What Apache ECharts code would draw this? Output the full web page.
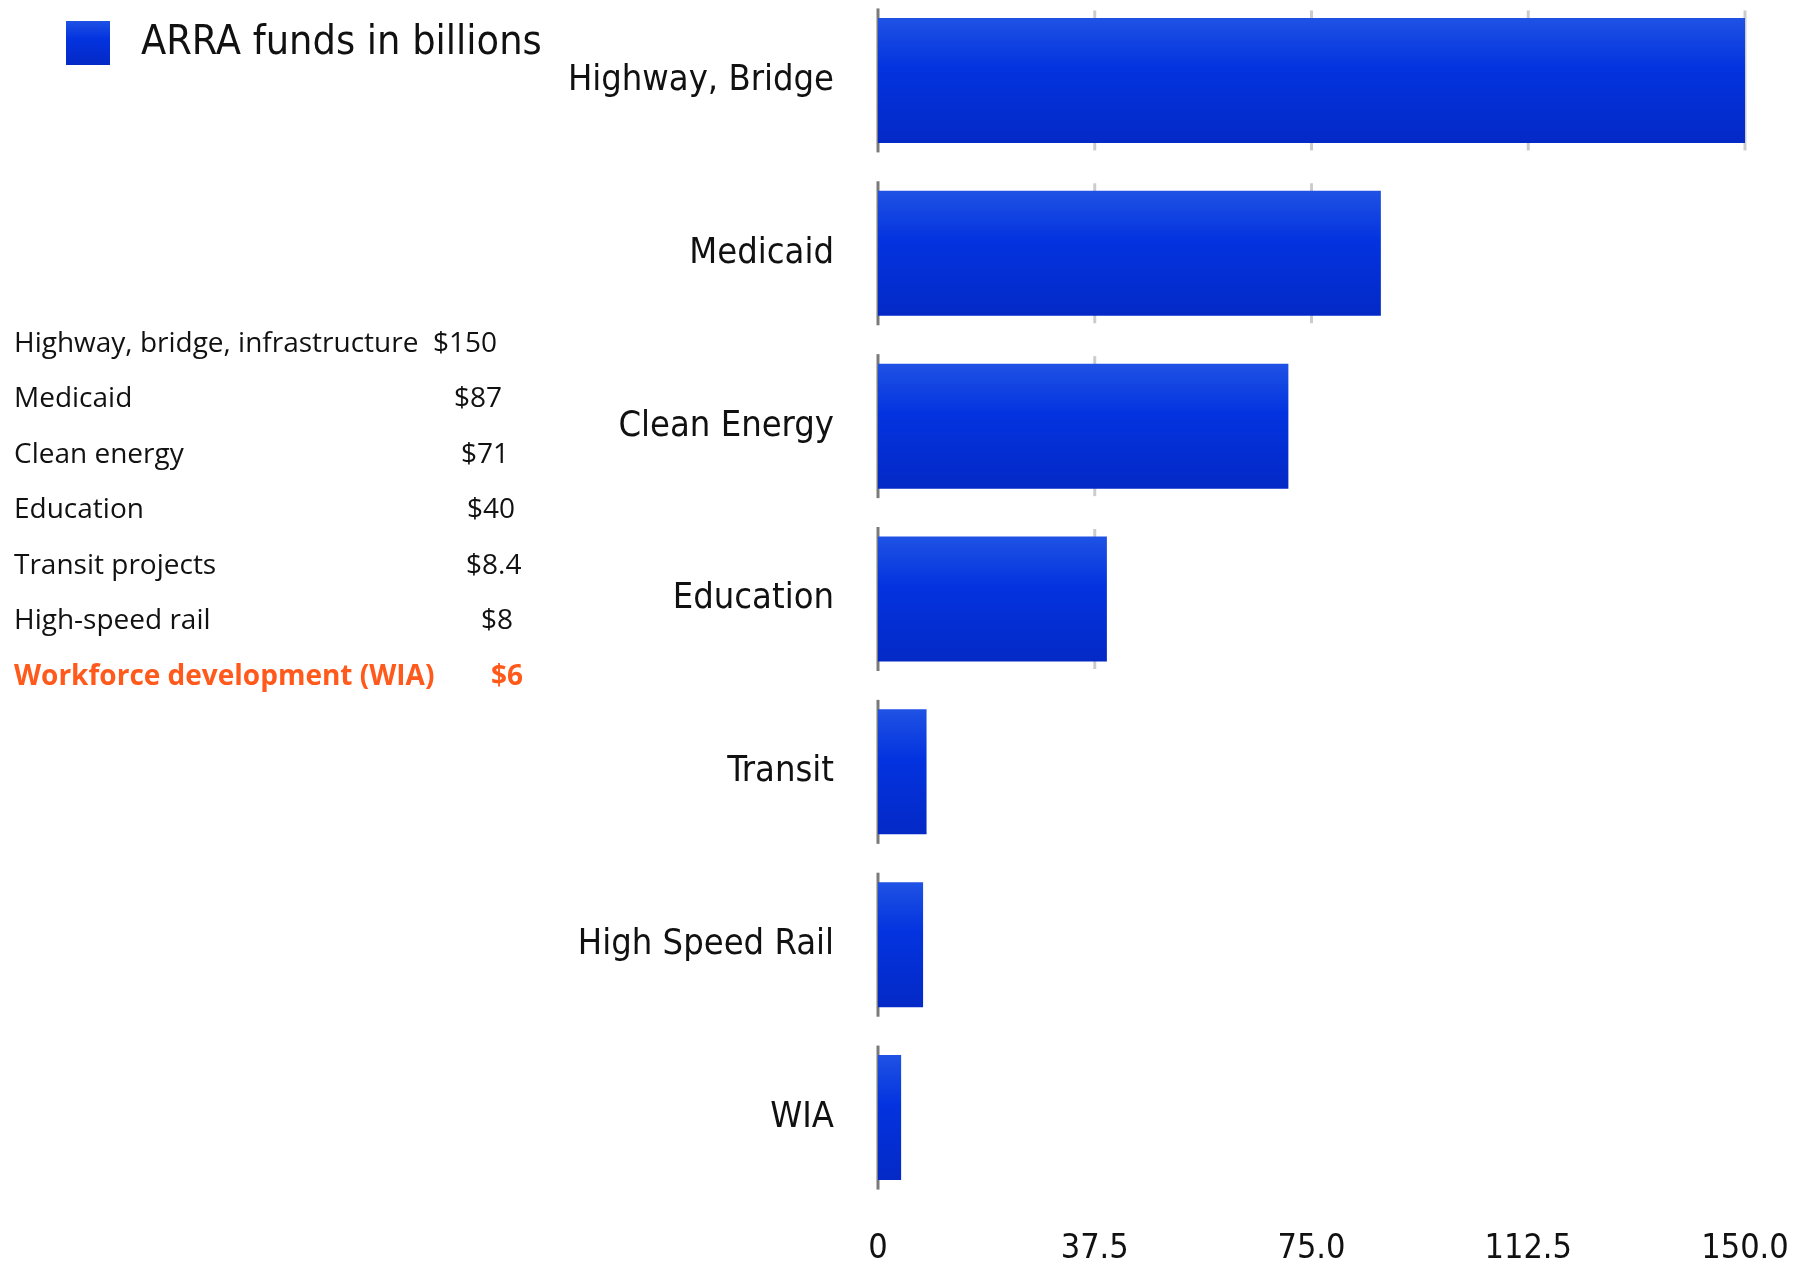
<!DOCTYPE html>
<html>
<head>
<meta charset="utf-8">
<script src="https://cdn.jsdelivr.net/npm/echarts@6/dist/echarts.min.js"></script>
<style>
  html, body { margin: 0; padding: 0; background: #fff; overflow: hidden; }
  #main { width: 1812px; height: 1278px; position: relative; top: -8px; }
</style>
</head>
<body>
<div id="main"></div>
<script>
// 柱状图数据 (柱长按图读取)
var categories = ['Highway, Bridge', 'Medicaid', 'Clean Energy', 'Education', 'Transit', 'High Speed Rail', 'WIA'];
var fundValues = [150, 87, 71, 39.6, 8.4, 7.8, 4];
var xTicks = [0, 37.5, 75, 112.5, 150];
var seriesName = 'ARRA funds in billions';
// 左侧文字表
var tableLabels = ['Highway, bridge, infrastructure', 'Medicaid', 'Clean energy', 'Education', 'Transit projects', 'High-speed rail', 'Workforce development (WIA)'];
var tableValues = ['$150', '$87', '$71', '$40', '$8.4', '$8', '$6'];

var gillFont = '"DejaVu Sans Condensed", "Liberation Sans Narrow", sans-serif';
var tableFont = '"Open Sans", "Noto Sans", sans-serif';
var orange = '#ff5a1c';
var offsetY = 8; // 容器上移量

var chart = echarts.init(document.getElementById('main'));

// 表格文字 (位置手工对齐)
var valueX = [433, 454, 461, 467, 466, 481, 491];
var graphics = [];
for (var i = 0; i < tableLabels.length; i++) {
    var y = 344 + i * 55.5 + offsetY;
    var last = i == tableLabels.length - 1;
    var font = (last ? 'bold ' : '') + '28px ' + tableFont;
    var col = last ? orange : '#111';
    graphics.push({
        type: 'text', x: 14, y: y,
        style: { text: tableLabels[i], font: font, fill: col, verticalAlign: 'middle' }
    });
    graphics.push({
        type: 'text', x: valueX[i], y: y,
        style: { text: tableValues[i], font: font, fill: col, verticalAlign: 'middle' }
    });
}

var barColor = new echarts.graphic.LinearGradient(0, 0, 0, 1, [
    { offset: 0, color: '#1f52e4' },
    { offset: 0.4, color: '#0333df' },
    { offset: 1, color: '#0429c6' }
]);

var option = {
    animation: false,
    backgroundColor: '#fff',
    graphic: graphics,
    legend: {
        left: 66, top: 21 + offsetY, padding: 0,
        icon: 'rect', itemWidth: 44, itemHeight: 44,
        data: [seriesName],
        textStyle: { fontSize: 41, fontFamily: gillFont, color: '#111', padding: [0, 0, 0, 26] }
    },
    grid: { left: 878, right: 67, top: 2, height: 1210 },
    xAxis: {
        type: 'value', min: 0, max: 150, interval: 37.5,
        axisLine: { show: false }, axisTick: { show: false }, splitLine: { show: false },
        axisLabel: {
            fontSize: 34, fontFamily: gillFont, color: '#111', margin: 28,
            formatter: function (v) { return v == 0 ? '0' : v.toFixed(1); }
        }
    },
    yAxis: {
        type: 'category', inverse: true, data: categories,
        axisLine: { show: false }, axisTick: { show: false },
        axisLabel: { fontSize: 36, fontFamily: gillFont, color: '#111', margin: 44 }
    },
    series: [
        {
            // 每个条目的轴线段和刻度线
            type: 'custom', silent: true, z: 1,
            data: fundValues.map(function (v, i) { return [i, v]; }),
            encode: { x: 1, y: 0 },
            renderItem: function (params, api) {
                var idx = api.value(0), val = api.value(1);
                var c = api.coord([0, idx]);
                var half = 72;
                var children = [];
                for (var k = 1; k < xTicks.length; k++) {
                    if (xTicks[k] <= val) {
                        var p = api.coord([xTicks[k], idx]);
                        children.push({
                            type: 'line',
                            shape: { x1: p[0], y1: c[1] - half + 2, x2: p[0], y2: c[1] + half - 2 },
                            style: { stroke: '#cccccc', lineWidth: 3 }
                        });
                    }
                }
                children.push({
                    type: 'line', z2: 10,
                    shape: { x1: c[0], y1: c[1] - half, x2: c[0], y2: c[1] + half },
                    style: { stroke: '#7a7a7a', lineWidth: 3 }
                });
                return { type: 'group', children: children };
            }
        },
        {
            name: seriesName, type: 'bar', z: 2,
            data: fundValues, barWidth: 125,
            itemStyle: { color: barColor }
        }
    ]
};
chart.setOption(option);
</script>
</body>
</html>
